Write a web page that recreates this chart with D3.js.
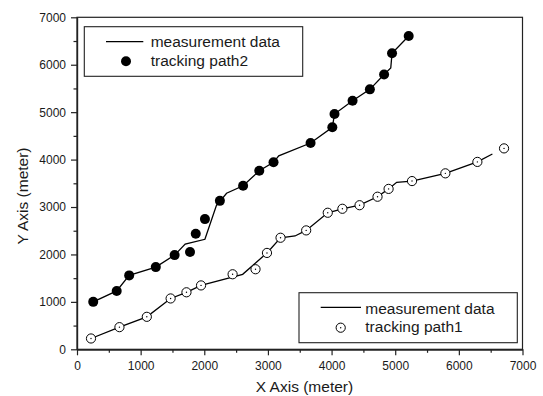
<!DOCTYPE html>
<html>
<head>
<meta charset="utf-8">
<script src="https://cdn.jsdelivr.net/npm/d3@7"></script>
<style>
  html, body { margin: 0; padding: 0; background: #fff; }
  svg { display: block; font-family: "Liberation Sans", Arial, sans-serif; }
</style>
</head>
<body>
<svg id="chart" width="543" height="396"></svg>
<script>
// ---- data ----
const xTicks = [0, 1000, 2000, 3000, 4000, 5000, 6000, 7000];
const yTicks = [0, 1000, 2000, 3000, 4000, 5000, 6000, 7000];
const minorTicks = [500, 1500, 2500, 3500, 4500, 5500, 6500];

const path2X = [255, 624, 820, 1238, 1534, 1776, 1866, 2010, 2245, 2610, 2864, 3088, 3670, 4012, 4046, 4330, 4602, 4825, 4950, 5212];
const path2Y = [1000, 1230, 1558, 1733, 1986, 2052, 2436, 2745, 3130, 3449, 3765, 3942, 4350, 4680, 4960, 5242, 5481, 5795, 6241, 6606];
const meas2X = [255, 624, 820, 1238, 1534, 1700, 2010, 2190, 2350, 2610, 2864, 3088, 3170, 3670, 4012, 4046, 4330, 4602, 4825, 4930, 4950, 5212];
const meas2Y = [1000, 1230, 1558, 1733, 1986, 2220, 2320, 3030, 3290, 3449, 3765, 3942, 4080, 4350, 4680, 4960, 5242, 5481, 5795, 5930, 6241, 6606];

const path1X = [220, 667, 1097, 1471, 1720, 1949, 2445, 2805, 2985, 3198, 3601, 3940, 4170, 4440, 4722, 4896, 5264, 5788, 6291, 6710];
const path1Y = [228, 467, 685, 1072, 1202, 1347, 1582, 1688, 2032, 2352, 2507, 2879, 2963, 3038, 3217, 3382, 3547, 3710, 3951, 4236];
const meas1X = [220, 667, 1097, 1471, 1720, 1949, 2603, 2985, 3198, 3426, 3601, 3940, 4170, 4440, 4722, 4896, 5023, 5264, 5788, 6291, 6527];
const meas1Y = [228, 467, 685, 1072, 1202, 1347, 1581, 2032, 2352, 2389, 2507, 2879, 2963, 3038, 3217, 3382, 3521, 3547, 3710, 3951, 4118];

const xTitle = "X Axis (meter)";
const yTitle = "Y Axis (meter)";
const legendTop = ["measurement data", "tracking path2"];
const legendBottom = ["measurement data", "tracking path1"];

// ---- layout ----
const svg = d3.select("#chart");
const plotL = 77, plotR = 522.5, plotT = 17.3, plotB = 349.3;
const x = d3.scaleLinear().domain([0, 7000]).range([plotL, plotR]);
const y = d3.scaleLinear().domain([0, 7000]).range([plotB, plotT]);
const axisColor = "#222";
const textColor = "#1a1a1a";

// frame
svg.append("rect")
  .attr("x", plotL).attr("y", plotT)
  .attr("width", plotR - plotL).attr("height", plotB - plotT)
  .attr("fill", "none").attr("stroke", axisColor).attr("stroke-width", 1.2);

// axes: major
const xAxis = svg.append("g").attr("transform", `translate(0,${plotB})`)
  .call(d3.axisBottom(x).tickValues(xTicks).tickSize(6).tickSizeOuter(0).tickFormat(d3.format("d")).tickPadding(6));
const yAxis = svg.append("g").attr("transform", `translate(${plotL},0)`)
  .call(d3.axisLeft(y).tickValues(yTicks).tickSize(6).tickSizeOuter(0).tickFormat(d3.format("d")).tickPadding(5));
// minor
svg.append("g").attr("transform", `translate(0,${plotB})`)
  .call(d3.axisBottom(x).tickValues(minorTicks).tickSize(3.5).tickSizeOuter(0).tickFormat(""));
svg.append("g").attr("transform", `translate(${plotL},0)`)
  .call(d3.axisLeft(y).tickValues(minorTicks).tickSize(3.5).tickSizeOuter(0).tickFormat(""));

svg.selectAll(".domain").attr("stroke", axisColor).attr("stroke-width", 1.2);
svg.selectAll(".tick line").attr("stroke", axisColor).attr("stroke-width", 1.2);
svg.selectAll(".tick text").attr("font-size", 12).attr("fill", textColor)
  .attr("font-family", "'Liberation Sans', Arial, sans-serif");
xAxis.selectAll(".tick text").attr("dy", "0.71em").attr("y", 12);

// axis titles
svg.append("text").attr("x", 304.5).attr("y", 392)
  .attr("text-anchor", "middle").attr("font-size", 15.5).attr("fill", textColor)
  .text(xTitle);
svg.append("text").attr("transform", `translate(28,196) rotate(-90)`)
  .attr("text-anchor", "middle").attr("font-size", 15.5).attr("fill", textColor)
  .text(yTitle);

// lines
const line = d3.line().x(d => x(d[0])).y(d => y(d[1]));
svg.append("path").datum(d3.zip(meas2X, meas2Y))
  .attr("d", line).attr("fill", "none").attr("stroke", "#000").attr("stroke-width", 1.3);
svg.append("path").datum(d3.zip(meas1X, meas1Y))
  .attr("d", line).attr("fill", "none").attr("stroke", "#000").attr("stroke-width", 1.3);

// markers path2 (filled)
svg.append("g").selectAll("circle").data(d3.zip(path2X, path2Y)).join("circle")
  .attr("cx", d => x(d[0])).attr("cy", d => y(d[1])).attr("r", 5).attr("fill", "#000");

// markers path1 (open with center dot)
const p1 = svg.append("g").selectAll("g").data(d3.zip(path1X, path1Y)).join("g")
  .attr("transform", d => `translate(${x(d[0])},${y(d[1])})`);
p1.append("circle").attr("r", 4.6).attr("fill", "#fff").attr("stroke", "#000").attr("stroke-width", 1);
p1.append("circle").attr("r", 0.7).attr("fill", "#000");

// legends
function legend(bx, by, bw, bh, lineX1, lineX2, lineY, mx, my, textX, base1, base2, labels, filled) {
  const g = svg.append("g");
  g.append("rect").attr("x", bx).attr("y", by).attr("width", bw).attr("height", bh)
    .attr("fill", "#fff").attr("stroke", axisColor).attr("stroke-width", 1.1);
  g.append("line").attr("x1", lineX1).attr("x2", lineX2).attr("y1", lineY).attr("y2", lineY)
    .attr("stroke", "#000").attr("stroke-width", 1.3);
  if (filled) {
    g.append("circle").attr("cx", mx).attr("cy", my).attr("r", 5).attr("fill", "#000");
  } else {
    g.append("circle").attr("cx", mx).attr("cy", my).attr("r", 4.6).attr("fill", "#fff")
      .attr("stroke", "#000").attr("stroke-width", 1);
    g.append("circle").attr("cx", mx).attr("cy", my).attr("r", 0.7).attr("fill", "#000");
  }
  g.append("text").attr("x", textX).attr("y", base1).attr("font-size", 15.5).attr("fill", textColor).text(labels[0]);
  g.append("text").attr("x", textX).attr("y", base2).attr("font-size", 15.5).attr("fill", textColor).text(labels[1]);
}
legend(84.3, 26.7, 218.4, 49.6, 106, 143.3, 41.7, 126, 61.3, 150.7, 47, 65.5, legendTop, true);
legend(299, 292.7, 218.3, 50, 320.7, 361, 307.3, 340.7, 327.7, 365.3, 313.5, 331.5, legendBottom, false);
</script>
</body>
</html>
